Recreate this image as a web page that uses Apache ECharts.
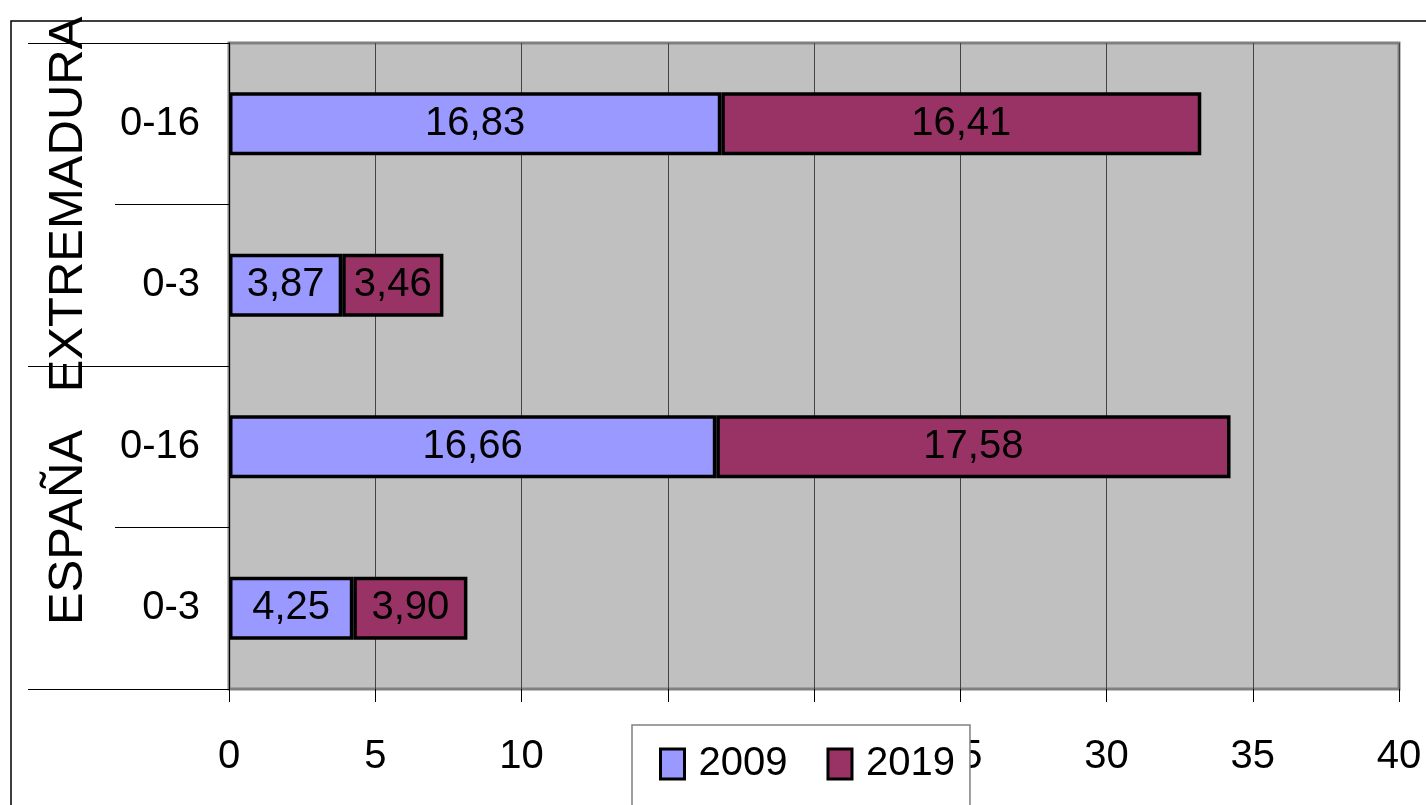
<!DOCTYPE html>
<html>
<head>
<meta charset="utf-8">
<title>0-3 / 0-16</title>
<script src="https://cdn.jsdelivr.net/npm/echarts@6/dist/echarts.min.js"></script>
<style>
  html, body { margin: 0; padding: 0; background: #fff; }
  #chart { width: 1426px; height: 805px; }
</style>
</head>
<body>
<div id="chart"></div>
<script>
// bottom to top, as the category axis draws them
const ageGroups = ['0-3', '0-16', '0-3', '0-16']
const regions = ['ESPAÑA', 'EXTREMADURA']
const values2009 = [4.25, 16.66, 3.87, 16.83]
const values2019 = [3.90, 17.58, 3.46, 16.41]
const seriesNames = ['2009', '2019']

const font = '"Liberation Sans", Arial, sans-serif'
const fontSize = 40

const chart = echarts.init(document.getElementById('chart'))

const barLabel = {
  show: true,
  position: 'inside',
  color: '#000',
  fontFamily: font,
  fontSize: fontSize,
  formatter: p => p.value.toFixed(2).replace('.', ',')
}

const option = {
  animation: false,
  backgroundColor: '#fff',
  graphic: [{
    type: 'rect',
    z: -10,
    shape: { x: 11, y: 21, width: 1500, height: 900 },
    style: { fill: 'none', stroke: '#000', lineWidth: 1.5 }
  }],
  grid: {
    left: 229,
    right: 27,
    top: 43,
    bottom: 116,
    show: true,
    backgroundColor: '#C0C0C0',
    borderColor: '#808080',
    borderWidth: 3
  },
  legend: {
    data: seriesNames,
    left: 632,
    top: 725,
    orient: 'horizontal',
    icon: 'rect',
    itemWidth: 24,
    itemHeight: 30,
    itemGap: 39,
    padding: [19, 15, 60, 27],
    backgroundColor: '#fff',
    borderColor: '#808080',
    borderWidth: 1.5,
    itemStyle: { borderColor: '#000', borderWidth: 3 },
    textStyle: {
      color: '#000',
      fontFamily: font,
      fontSize: fontSize,
      padding: [0, 0, 0, 9]
    }
  },
  xAxis: {
    type: 'value',
    min: 0,
    max: 40,
    interval: 5,
    axisLine: { show: false },
    axisTick: { show: true, length: 13, lineStyle: { color: '#000', width: 1 } },
    axisLabel: {
      color: '#000',
      fontFamily: font,
      fontSize: fontSize,
      margin: 48
    },
    splitLine: { show: true, lineStyle: { color: '#444', width: 1 } }
  },
  yAxis: [
    {
      type: 'category',
      data: ageGroups,
      position: 'left',
      axisLine: { show: true, lineStyle: { color: '#000', width: 1 } },
      axisTick: { show: true, interval: 0, length: 114, lineStyle: { color: '#000', width: 1 } },
      axisLabel: {
        interval: 0,
        color: '#000',
        fontFamily: font,
        fontSize: fontSize,
        margin: 29
      }
    },
    {
      type: 'category',
      data: regions,
      position: 'left',
      axisLine: { show: false },
      axisTick: { show: true, interval: 0, length: 201, lineStyle: { color: '#000', width: 1 } },
      axisLabel: {
        interval: 0,
        rotate: 90,
        verticalAlign: 'middle',
        color: '#000',
        fontFamily: font,
        fontSize: 49,
        margin: 161
      }
    }
  ],
  series: [
    {
      name: seriesNames[0],
      type: 'bar',
      stack: 'total',
      yAxisIndex: 0,
      barWidth: 63,
      data: values2009,
      itemStyle: { color: '#9999FF', borderColor: '#000', borderWidth: 3.5 },
      label: barLabel
    },
    {
      name: seriesNames[1],
      type: 'bar',
      stack: 'total',
      yAxisIndex: 0,
      barWidth: 63,
      data: values2019,
      itemStyle: { color: '#993366', borderColor: '#000', borderWidth: 3.5 },
      label: barLabel
    }
  ]
}

chart.setOption(option)
</script>
</body>
</html>
